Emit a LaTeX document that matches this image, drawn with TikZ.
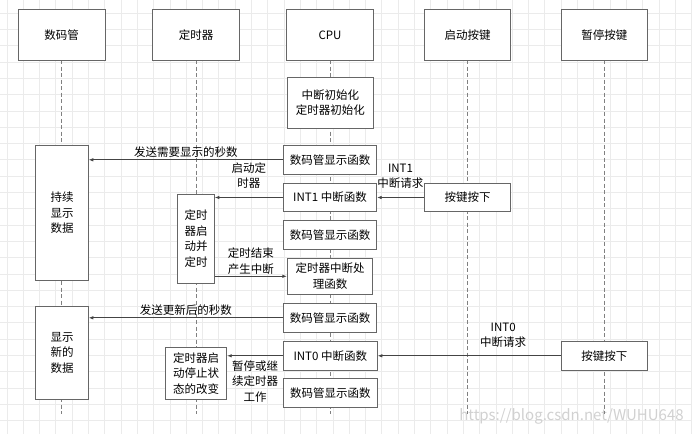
\documentclass[tikz,border=0pt]{standalone}
\usepackage{fontspec}
\setmainfont{Noto Sans CJK SC}
\usepackage{tikz}
\usetikzlibrary{positioning, arrows.meta}
\definecolor{gridgray}{HTML}{EBEBEB}
\definecolor{boxgray}{HTML}{666666}
\definecolor{msggray}{HTML}{444444}
\tikzset{
    actor/.style={draw=boxgray, fill=white, line width=0.9pt, minimum width=86.5pt, minimum height=51.4pt},
    func/.style={draw=boxgray, fill=white, line width=0.9pt, minimum width=93.4pt, minimum height=28.6pt, align=center},
    act/.style={draw=boxgray, fill=white, line width=0.9pt, align=center, inner sep=1pt},
    lifeline/.style={draw=gray, line width=1pt, dash pattern=on 4pt off 2.5pt},
    msg/.style={draw=msggray, line width=0.8pt, -{Latex[length=4.5pt, width=3.5pt]}},
    lbl/.style={align=center, inner sep=1.5pt}
}

\begin{document}
\begin{tikzpicture}[x=1pt, y=-1pt, font=\fontsize{11.5}{15.5}\selectfont]
            \useasboundingbox (0, 0) rectangle (692, 434);
            \fill[white] (0, 0) rectangle (692, 434);
            \foreach \i in {0,...,42}
                \draw[gridgray, line width=0.8pt] (6.9+\i*16.3, 0) -- ++(0, 434);
            \foreach \j in {0,...,25}
                \draw[gridgray, line width=0.8pt] (0, 13.1+\j*16.3) -- ++(692, 0);

            \node (wm) at (571.5, 416) {\fontsize{15}{15}\selectfont\color{black!18}https://blog.csdn.net/WUHU648};

            % lifelines
            \foreach \x in {61.7, 196, 330, 467.5, 604.3}
                \draw[lifeline] (\x, 60) -- (\x, 414);

            \node[actor] (seg) at (61.7, 35) {数码管};
            \node[actor] (tmr) at (196, 35) {定时器};
            \node[actor] (cpu) at (330, 35) {CPU};
            \node[actor] (startkey) at (467.5, 35) {启动按键};
            \node[actor] (pausekey) at (604.3, 35) {暂停按键};

            \node[func, minimum width=86pt, minimum height=51pt] (init) at (330.3, 102.8) {中断初始化\\定时器初始化};
            \node[func, minimum height=29pt] (show1) at (330, 159.8) {数码管显示函数};
            \node[func, minimum height=28.4pt] (int1) at (330, 197.5) {INT1 中断函数};
            \node[func] (show2) at (330, 235) {数码管显示函数};
            \node[func, minimum width=85.4pt, minimum height=36pt] (tisr) at (330, 276.3) {定时器中断处\\理函数};
            \node[func, minimum height=29pt] (show3) at (330, 317.8) {数码管显示函数};
            \node[func, minimum width=94pt, minimum height=28.3pt] (int0) at (330.3, 355.8) {INT0 中断函数};
            \node[func, minimum width=94pt] (show4) at (330.3, 393) {数码管显示函数};

            \node[act, minimum width=52.6pt, minimum height=134.7pt] (hold) at (62, 212.7) {持续\\显示\\数据};
            \node[act, minimum width=52.6pt, minimum height=93.3pt] (newdata) at (62, 352.7) {显示\\新的\\数据};
            \node[act, minimum width=36.6pt, minimum height=89pt] (run) at (196, 238.8) {定时\\器启\\动并\\定时};
            \node[act, minimum width=61pt, minimum height=51.6pt] (state) at (196.2, 373.5) {定时器启\\动停止状\\态的改变};

            \node[actor, minimum height=28.4pt] (key1) at (467.5, 197.5) {按键按下};
            \node[actor, minimum width=86pt, minimum height=28.3pt] (key2) at (604.3, 355.8) {按键按下};

            \draw[msg] (show1.west) -- (show1.west -| hold.east) node [midway, above, lbl] {发送需要显示的秒数};
            \draw[msg] (int1.west) -- (int1.west -| run.east) node [midway, above, lbl, yshift=7pt] {启动定\\时器};
            \draw[msg] (key1.west) -- (int1.east) node [midway, above, lbl, yshift=7pt] {INT1\\中断请求};
            \draw[msg] (tisr.west -| run.east) -- (tisr.west) node [midway, above, lbl] {定时结束\\产生中断};
            \draw[msg] (show3.west) -- (show3.west -| newdata.east) node [midway, above, lbl] {发送更新后的秒数};
            \draw[msg] (int0.west) -- (int0.west -| state.east) node [midway, below, lbl, yshift=-3pt] {暂停或继\\续定时器\\工作};
            \draw[msg] (key2.west) -- (int0.east) node [pos=0.315, above, lbl, yshift=6pt] {INT0\\中断请求};
        \end{tikzpicture}
\end{document}
